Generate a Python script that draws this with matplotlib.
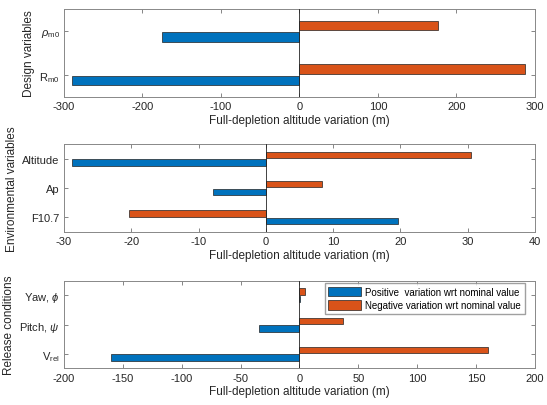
import matplotlib
matplotlib.use("Agg")
import matplotlib.pyplot as plt
import numpy as np

plt.rcParams["font.family"] = ["Liberation Sans", "DejaVu Sans"]
plt.rcParams["mathtext.fontset"] = "custom"
plt.rcParams["mathtext.rm"] = "Liberation Sans"
plt.rcParams["mathtext.it"] = "Liberation Sans:italic"
plt.rcParams["mathtext.default"] = "regular"
plt.rcParams["axes.unicode_minus"] = False

BLUE = "#0072BD"
ORANGE = "#D95319"

# design variables
design_labels = [r"R$_{\rm m0}$", r"$\it{\rho}$$_{\rm m0}$"]
design_pos = [-290, -175]
design_neg = [287, 176]

# environmental variables
env_labels = ["F10.7", "Ap", "Altitude"]
env_pos = [19.7, -7.8, -28.8]
env_neg = [-20.4, 8.4, 30.5]

# release conditions
rel_labels = [r"V$_{\rm rel}$", r"Pitch, $\it{\psi}$", r"Yaw, $\it{\phi}$"]
rel_pos = [-160, -34, 0.3]
rel_neg = [160, 37, 5]

panels = [
    (design_labels, design_pos, design_neg, "Design variables",
     np.arange(-300, 301, 100), [0.117, 0.759, 0.861, 0.216]),
    (env_labels, env_pos, env_neg, "Environmental variables",
     np.arange(-30, 41, 10), [0.117, 0.426, 0.861, 0.217]),
    (rel_labels, rel_pos, rel_neg, "Release conditions",
     np.arange(-200, 201, 50), [0.117, 0.090, 0.861, 0.216]),
]

fig = plt.figure(figsize=(5.47, 4.06), dpi=100, facecolor="white")

for i, (labels, pos, neg, ylabel, xticks, rect) in enumerate(panels):
    ax = fig.add_axes(rect)
    y = np.arange(1, len(labels) + 1)
    ax.barh(y - 0.13, pos, height=0.22, color=BLUE, edgecolor="#222222",
            linewidth=0.5, label="Positive  variation wrt nominal value")
    ax.barh(y + 0.13, neg, height=0.22, color=ORANGE, edgecolor="#222222",
            linewidth=0.5, label="Negative variation wrt nominal value")
    ax.axvline(0, color="#222222", linewidth=0.6, zorder=3)

    ax.set_xlim(xticks[0], xticks[-1])
    ax.set_ylim(0.5, len(labels) + 0.5)
    ax.set_xticks(xticks)
    ax.set_yticks(y)
    ax.set_yticklabels(labels)
    ax.set_xlabel("Full-depletion altitude variation (m)", fontsize=8.5,
                  color="#262626", labelpad=2)
    ax.set_ylabel(ylabel, fontsize=8.5, color="#262626", labelpad=3)

    ax.tick_params(direction="in", top=True, right=True, length=3,
                   width=0.5, color="#555555", labelsize=8,
                   labelcolor="#262626", pad=3)
    for s in ax.spines.values():
        s.set_color("#888888")
        s.set_linewidth(0.7)

    if i == 2:
        ax.legend(loc="upper right", bbox_to_anchor=(0.978, 0.97),
                  fontsize=7.0, frameon=True, fancybox=False,
                  edgecolor="#888888", handlelength=3.4, handleheight=1.1,
                  borderpad=0.35, labelspacing=0.35, handletextpad=0.45,
                  borderaxespad=0)

fig.savefig("out.png", dpi=100, facecolor="white")
